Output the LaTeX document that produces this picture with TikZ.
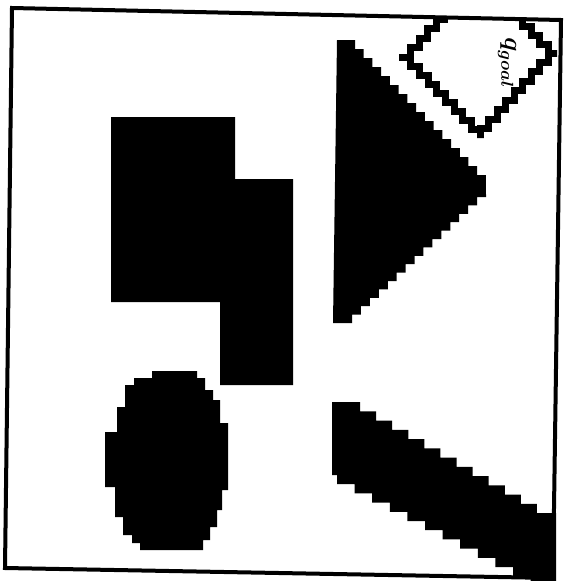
\documentclass[tikz,border=0pt]{standalone}
\begin{document}
\begin{tikzpicture}[x=1pt,y=-1pt,
  frameline/.style={line width=4pt,line join=miter},
  solidshape/.style={fill=black,draw=none},
  beadline/.style={line width=7pt,line join=miter,line cap=rect},
  goallabel/.style={rotate=-90,inner sep=0pt,font=\fontsize{27}{31}\selectfont\boldmath}]
\useasboundingbox (0,0) rectangle (567,581);
\fill[white] (0,0) rectangle (567,581);
\begin{scope}
\clip (0,0) rectangle (567,581);
% frame (scan slightly rotated)
\coordinate (tl) at (12,8);
\coordinate (tr) at (561,20);
\coordinate (br) at (553,578);
\coordinate (bl) at (5,568);
% L-shaped block made of two rectangles
\path[solidshape] (111,117) -- (235,117) -- (235,179) -- (293,179) -- (293,385)
  -- (220,385) -- (220,302) -- (111,302) -- cycle;
% pixelated ellipse
\path[solidshape] (152,371) -- (197,371) -- (197,378) -- (205,378) -- (205,390)
  -- (213,390) -- (213,400) -- (220,400) -- (220,423) -- (228,423) -- (228,490)
  -- (222,490) -- (222,510) -- (217,510) -- (217,527) -- (210,527) -- (210,540)
  -- (203,540) -- (203,550) -- (140,550) -- (140,543) -- (132,543) -- (132,535)
  -- (123,535) -- (123,517) -- (115,517) -- (115,487) -- (105,487) -- (105,432)
  -- (117,432) -- (117,407) -- (125,407) -- (125,385) -- (134,385) -- (134,378)
  -- (152,378) -- cycle;
% pixelated triangle
\path[solidshape] (337,40) -- (355,40)
  \foreach \i in {1,...,15}{ -- ++(0,9) -- ++(8.73,0) }
  -- (486,197)
  \foreach \i in {1,...,15}{ -- ++(-8.93,0) -- ++(0,8.4) }
  -- (333,323) -- cycle;
% pixelated bar
\path[solidshape] (332,475) -- (337,475)
  \foreach \i in {1,...,11}{ -- ++(0,9.2) -- ++(17.6,0) }
  -- ++(0,30) -- (556,606) -- (556,513) -- (553,513)
  \foreach \i in {1,...,12}{ -- ++(-16.08,0) -- ++(0,-9.25) }
  -- (332,402) -- cycle;
\end{scope}
% goal region (diamond), clipped by the frame
\begin{scope}
\clip (tl) -- (tr) -- (br) -- (bl) -- cycle;
\draw[beadline] (402,57)
  \foreach \i in {1,...,9}{ -- ++(8.67,0) -- ++(0,9) }
  \foreach \i in {1,...,9}{ -- ++(0,-9.44) -- ++(8.56,0) }
  \foreach \i in {1,...,9}{ -- ++(-8.67,0) -- ++(0,-9) }
  \foreach \i in {1,...,9}{ -- ++(0,9.44) -- ++(-8.56,0) };
\end{scope}
\draw[frameline] (tl) -- (tr) -- (br) -- (bl) -- cycle;
\node[goallabel] (goal) at (507,63) {$q_{goal}$};
\end{tikzpicture}
\end{document}
